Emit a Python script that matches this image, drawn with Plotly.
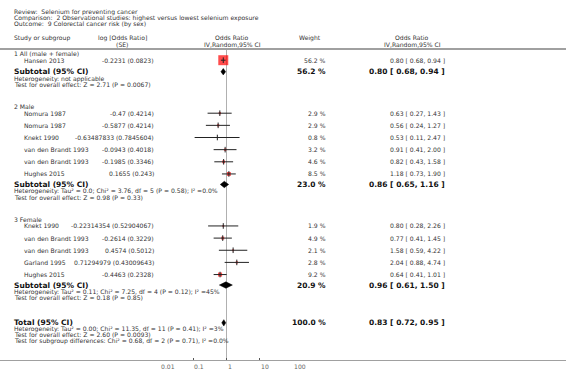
import math
import plotly.graph_objects as go

# ---------------- data ----------------
title_lines = [
    "Review:  Selenium for preventing cancer",
    "Comparison:  2 Observational studies: highest versus lowest selenium exposure",
    "Outcome:  9 Colorectal cancer risk (by sex)",
]
group_names = ["1 All (male + female)", "2 Male", "3 Female"]

study_names = [
    ["Hansen 2013"],
    ["Nomura 1987", "Nomura 1987", "Knekt 1990", "van den Brandt 1993", "van den Brandt 1993", "Hughes 2015"],
    ["Knekt 1990", "van den Brandt 1993", "van den Brandt 1993", "Garland 1995", "Hughes 2015"],
]
log_or = [
    [-0.2231],
    [-0.47, -0.5877, -0.63487833, -0.0943, -0.1985, 0.1655],
    [-0.22314354, -0.2614, 0.4574, 0.71294979, -0.4463],
]
se = [
    [0.0823],
    [0.4214, 0.4214, 0.7845604, 0.4018, 0.3346, 0.243],
    [0.52904067, 0.3229, 0.5012, 0.43009643, 0.2328],
]
weights = [
    [56.2],
    [2.9, 2.9, 0.8, 3.2, 4.6, 8.5],
    [1.9, 4.9, 2.1, 2.8, 9.2],
]
odds = [
    [0.80],
    [0.63, 0.56, 0.53, 0.91, 0.82, 1.18],
    [0.80, 0.77, 1.58, 2.04, 0.64],
]
ci_low = [
    [0.68],
    [0.27, 0.24, 0.11, 0.41, 0.43, 0.73],
    [0.28, 0.41, 0.59, 0.88, 0.41],
]
ci_high = [
    [0.94],
    [1.43, 1.27, 2.47, 2.00, 1.58, 1.90],
    [2.26, 1.45, 4.22, 4.74, 1.01],
]
sub_weight = [56.2, 23.0, 20.9]
sub_or = [0.80, 0.86, 0.96]
sub_low = [0.68, 0.65, 0.61]
sub_high = [0.94, 1.16, 1.50]
sub_het = [
    "Heterogeneity: not applicable",
    "Heterogeneity: Tau² = 0.0; Chi² = 3.76, df = 5 (P = 0.58); I² =0.0%",
    "Heterogeneity: Tau² = 0.11; Chi² = 7.25, df = 4 (P = 0.12); I² =45%",
]
sub_test = [
    "Test for overall effect: Z = 2.71 (P = 0.0067)",
    "Test for overall effect: Z = 0.98 (P = 0.33)",
    "Test for overall effect: Z = 0.18 (P = 0.85)",
]
total_weight = 100.0
total_or = 0.83
total_low = 0.72
total_high = 0.95
total_notes = [
    "Heterogeneity: Tau² = 0.00; Chi² = 11.35, df = 11 (P = 0.41); I² =3%",
    "Test for overall effect: Z = 2.60 (P = 0.0093)",
    "Test for subgroup differences: Chi² = 0.68, df = 2 (P = 0.71), I² =0.0%",
]
tick_vals = [0.01, 0.1, 1, 10, 100]
tick_text = ["0.01", "0.1", "1", "10", "100"]

# ---------------- layout constants ----------------
W, H = 566, 384
FONT = "DejaVu Sans"
SMALL = 6.1
BOLD = 7.5
TXT = "#333333"
GREY_LINE = "#a0a0a0"
AXIS_Y = 361
HEADER_LINE_Y = 49
X_GROUP = 13
X_STUDY = 23
X_LOGOR = 155
X_WEIGHT = 327
X_CI = 446

ann = []


def px(x):
    return x / W


def text(x, y, s, anchor="left", size=SMALL, bold=False, color=TXT, xref="paper", yref="y"):
    ann.append(dict(
        x=px(x) if xref == "paper" else x,
        y=y if yref == "y" else 1 - y / H,
        xref=xref, yref=yref,
        text=f"<b>{s}</b>" if bold else s, showarrow=False,
        xanchor=anchor, yanchor="middle", borderpad=0,
        font=dict(family=FONT, size=size, color=color),
    ))


def fmt_ci(o, l, h):
    return f"{o:.2f} [ {l:.2f}, {h:.2f} ]"


# titles
title_y = [11.5, 17.5, 23.5]
for s, y in zip(title_lines, title_y):
    text(X_GROUP, y, s)

# headers
text(X_GROUP, 38, "Study or subgroup")
text(122, 37.5, "log [Odds Ratio]", anchor="center")
text(122, 44, "(SE)", anchor="center")
text(232, 37.5, "Odds Ratio", anchor="center")
text(232, 44, "IV,Random,95% CI", anchor="center")
text(310, 38, "Weight", anchor="center")
text(412, 37.5, "Odds Ratio", anchor="center")
text(412, 44, "IV,Random,95% CI", anchor="center")

# ---------------- rows ----------------
st_x, st_y, st_w, st_lo, st_hi = [], [], [], [], []
dia_x, dia_y = [], []
DH = 3.2

y = 53.5
for g in range(3):
    text(X_GROUP, y, group_names[g])
    y += 6.7
    for i, name in enumerate(study_names[g]):
        text(X_STUDY, y, name)
        text(X_LOGOR, y, f"{log_or[g][i]} ({se[g][i]})", anchor="right")
        text(X_WEIGHT, y, f"{weights[g][i]:.1f} %", anchor="right")
        text(X_CI, y, fmt_ci(odds[g][i], ci_low[g][i], ci_high[g][i]), anchor="right")
        st_x.append(odds[g][i]); st_y.append(y); st_w.append(weights[g][i])
        st_lo.append(ci_low[g][i]); st_hi.append(ci_high[g][i])
        y += 12.15
    y += 10.5 - 12.15 + (1.0 if g == 0 else 0)
    text(X_GROUP, y, "Subtotal (95% CI)", size=BOLD, bold=True, color="#111")
    text(X_WEIGHT, y, f"{sub_weight[g]:.1f} %", anchor="right", size=BOLD, bold=True, color="#111")
    text(X_CI, y, fmt_ci(sub_or[g], sub_low[g], sub_high[g]), anchor="right", size=BOLD, bold=True, color="#111")
    dia_x += [sub_low[g], sub_or[g], sub_high[g], sub_or[g], sub_low[g], None]
    dia_y += [y, y - DH, y, y + DH, y, None]
    y += 6.8
    text(X_GROUP, y, sub_het[g])
    y += 6
    text(X_GROUP, y, sub_test[g])
    y += 22

y += 3
text(X_GROUP, y, "Total (95% CI)", size=BOLD, bold=True, color="#111")
text(X_WEIGHT, y, f"{total_weight:.1f} %", anchor="right", size=BOLD, bold=True, color="#111")
text(X_CI, y, fmt_ci(total_or, total_low, total_high), anchor="right", size=BOLD, bold=True, color="#111")
dia_x += [total_low, total_or, total_high, total_or, total_low, None]
dia_y += [y, y - DH, y, y + DH, y, None]
for s in total_notes:
    y += 6
    text(X_GROUP, y, s)

# tick labels (left-aligned at the tick as in RevMan)
for v, t in zip(tick_vals, tick_text):
    text(math.log10(v), AXIS_Y + 5.5, t, color="#666666", xref="x", yref="paper")

fig = go.Figure()

# reference line at OR = 1
fig.add_trace(go.Scatter(x=[1, 1], y=[HEADER_LINE_Y, AXIS_Y], mode="lines",
                         line=dict(color="#b0b0b0", width=1), hoverinfo="skip"))

# weight boxes
fig.add_trace(go.Scatter(
    x=st_x, y=st_y, mode="markers",
    marker=dict(symbol="square", color="#ff0000",
                size=[1.33 * math.sqrt(w) for w in st_w], line=dict(width=0)),
    hoverinfo="skip"))

# CI lines
ci_x, ci_y = [], []
for o, yy, lo, hi in zip(st_x, st_y, st_lo, st_hi):
    ci_x += [lo, hi, None]
    ci_y += [yy, yy, None]
fig.add_trace(go.Scatter(x=ci_x, y=ci_y, mode="lines",
                         line=dict(color="#222222", width=1), hoverinfo="skip"))
# estimate ticks
fig.add_trace(go.Scatter(x=st_x, y=st_y, mode="markers",
                         marker=dict(symbol="line-ns", size=4, line=dict(color="#222222", width=1)),
                         hoverinfo="skip"))

# diamonds
fig.add_trace(go.Scatter(x=dia_x, y=dia_y, mode="lines", fill="toself",
                         fillcolor="#000000", line=dict(color="#000000", width=0.5),
                         hoverinfo="skip"))

shapes = [
    dict(type="line", xref="paper", yref="y", x0=0, x1=1, y0=HEADER_LINE_Y, y1=HEADER_LINE_Y,
         line=dict(color=GREY_LINE, width=2)),
    dict(type="line", xref="paper", yref="y", x0=0, x1=1, y0=AXIS_Y, y1=AXIS_Y,
         line=dict(color=GREY_LINE, width=2)),
]

fig.update_layout(
    width=W, height=H, margin=dict(l=0, r=0, t=0, b=0),
    paper_bgcolor="white", plot_bgcolor="white", showlegend=False,
    annotations=ann, shapes=shapes,
    xaxis=dict(type="log", range=[-2, 2], domain=[px(160), px(293)],
               showgrid=False, zeroline=False, showline=False,
               tickvals=tick_vals, ticks="inside", ticklen=3, tickcolor="#555555",
               tickwidth=1, showticklabels=False, fixedrange=True),
    yaxis=dict(range=[AXIS_Y, 0], domain=[(H - AXIS_Y) / H, 1], visible=False,
               fixedrange=True),
)

fig.write_html(
    "out.html",
    config={"displayModeBar": False},
    post_script="document.body.style.margin='0';document.body.style.overflow='hidden';",
)
